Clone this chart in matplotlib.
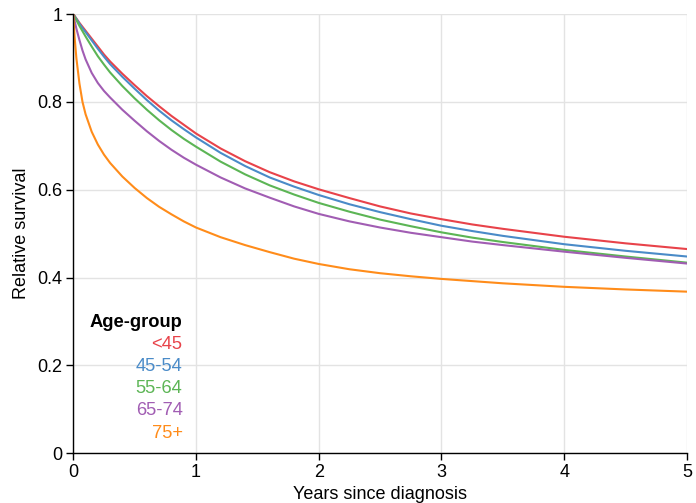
import matplotlib
matplotlib.use("Agg")
import matplotlib.pyplot as plt

plt.rcParams['font.family'] = ['Liberation Sans', 'DejaVu Sans']

years = [0, 0.01, 0.025, 0.05, 0.075, 0.1, 0.15, 0.2, 0.25, 0.3, 0.4, 0.5, 0.6, 0.7, 0.8, 0.9,
         1.0, 1.2, 1.4, 1.6, 1.8, 2.0, 2.25, 2.5, 2.75, 3.0, 3.25, 3.5, 4.0, 4.5, 5.0]
surv_lt45 = [1.0, 0.996, 0.990, 0.980, 0.971, 0.962, 0.944, 0.926, 0.908, 0.892, 0.864, 0.838, 0.813, 0.790, 0.768, 0.748,
             0.728, 0.694, 0.665, 0.640, 0.619, 0.601, 0.581, 0.562, 0.546, 0.533, 0.521, 0.511, 0.493, 0.478, 0.465]
surv_45_54 = [1.0, 0.9955, 0.989, 0.978, 0.968, 0.959, 0.940, 0.921, 0.903, 0.886, 0.857, 0.830, 0.804, 0.780, 0.758, 0.738,
              0.719, 0.684, 0.654, 0.628, 0.607, 0.588, 0.567, 0.549, 0.533, 0.518, 0.506, 0.495, 0.476, 0.461, 0.448]
surv_55_64 = [1.0, 0.994, 0.986, 0.973, 0.961, 0.949, 0.926, 0.904, 0.885, 0.867, 0.836, 0.808, 0.782, 0.758, 0.736, 0.716,
              0.698, 0.664, 0.635, 0.610, 0.589, 0.570, 0.550, 0.532, 0.517, 0.503, 0.491, 0.481, 0.463, 0.448, 0.434]
surv_65_74 = [1.0, 0.985, 0.967, 0.941, 0.917, 0.897, 0.866, 0.843, 0.825, 0.810, 0.782, 0.757, 0.733, 0.711, 0.691, 0.673,
              0.657, 0.628, 0.603, 0.582, 0.562, 0.545, 0.528, 0.514, 0.502, 0.492, 0.482, 0.474, 0.459, 0.445, 0.432]
surv_75p = [1.0, 0.950, 0.900, 0.842, 0.800, 0.772, 0.732, 0.703, 0.680, 0.661, 0.630, 0.604, 0.581, 0.561, 0.544, 0.528,
            0.514, 0.492, 0.474, 0.458, 0.443, 0.431, 0.419, 0.410, 0.403, 0.397, 0.392, 0.387, 0.379, 0.373, 0.368]

groups = ['<45', '45-54', '55-64', '65-74', '75+']
series = [surv_lt45, surv_45_54, surv_55_64, surv_65_74, surv_75p]
colors = ['#e8434a', '#4a8bc8', '#5cb555', '#a15db3', '#ff8c1a']

fig = plt.figure(figsize=(6.96, 5.03), dpi=100)
ax = fig.add_axes([0.1053, 0.0988, 0.8817, 0.8733])

for vals, c in zip(series, colors):
    ax.plot(years, vals, color=c, lw=1.5, solid_joinstyle='round')

ax.set_xlim(0, 5)
ax.set_ylim(0, 1)
ax.set_xticks([0, 1, 2, 3, 4, 5])
ax.set_xticklabels(['0', '1', '2', '3', '4', '5'])
ax.set_yticks([0, 0.2, 0.4, 0.6, 0.8, 1])
ax.set_yticklabels(['0', '0.2', '0.4', '0.6', '0.8', '1'])
ax.grid(True, color='#e3e3e3', lw=1)
ax.set_axisbelow(True)
for s in ['top', 'right']:
    ax.spines[s].set_visible(False)
for s in ['left', 'bottom']:
    ax.spines[s].set_color('black')
    ax.spines[s].set_linewidth(1.0)
ax.tick_params(axis='both', direction='out', length=5, width=1, color='black',
               labelsize=13, labelcolor='black', pad=3)
ax.set_xlabel('Years since diagnosis', fontsize=13, labelpad=3)
ax.set_ylabel('Relative survival', fontsize=13, labelpad=5)

# legend as coloured text
xr = 0.178
ax.text(xr, 0.298, 'Age-group', transform=ax.transAxes, ha='right', va='center',
        fontsize=13.2, fontweight='bold', color='black')
for i, (g, c) in enumerate(zip(groups, colors)):
    ax.text(xr, 0.248 - i * 0.0505, g, transform=ax.transAxes, ha='right', va='center',
            fontsize=13.2, color=c)

fig.savefig('out.png', dpi=100)
